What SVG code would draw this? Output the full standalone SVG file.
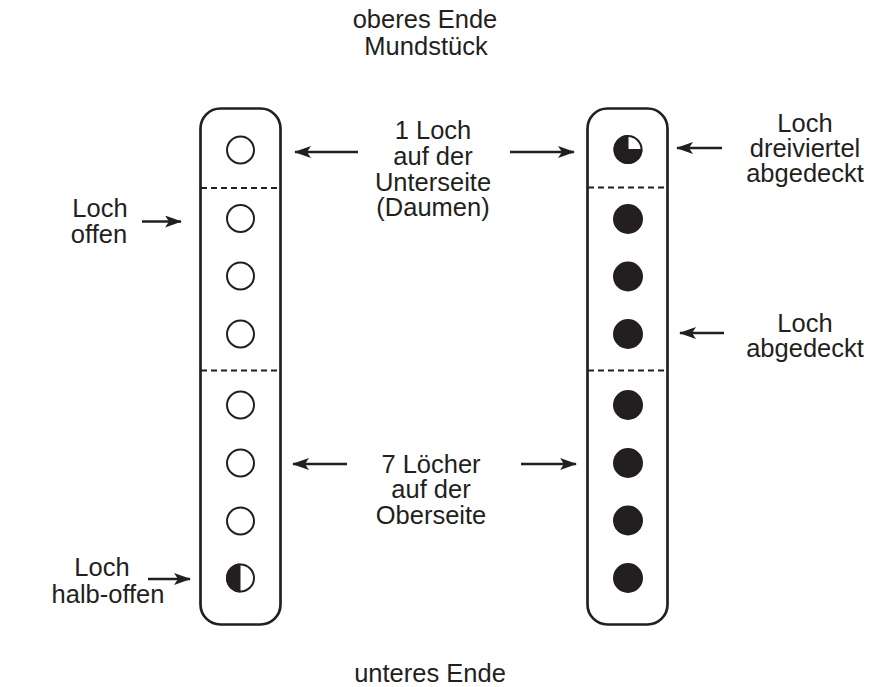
<svg xmlns="http://www.w3.org/2000/svg" width="872" height="687" viewBox="0 0 872 687">
<defs>
<style>
.tube{fill:none;stroke:#231f20;stroke-width:2.7}
.sep{stroke:#231f20;stroke-width:2;stroke-dasharray:6 4}
.open{fill:none;stroke:#231f20;stroke-width:2}
.full{fill:#231f20}
.arr{stroke:#231f20;stroke-width:2.5;fill:none;marker-end:url(#ah)}
text{font-family:"Liberation Sans",Arial,sans-serif;font-size:25.5px;fill:#231f20;text-anchor:middle}
</style>
<marker id="ah" viewBox="0 0 17 12" refX="16" refY="6" markerWidth="17" markerHeight="12" markerUnits="userSpaceOnUse" orient="auto">
<path d="M0,0 L17,6 L0,12 L4,6 Z" fill="#231f20"/>
</marker>
</defs>
<rect width="872" height="687" fill="#fff"/>

<g id="label-top">
<text x="425" y="28">oberes Ende</text>
<text x="426" y="55">Mundstück</text>
</g>
<g id="label-bottom">
<text x="430" y="682">unteres Ende</text>
</g>

<g id="tube-left">
<rect class="tube" x="200.5" y="108.5" width="80" height="516" rx="20"/>
<line class="sep" x1="201" y1="188" x2="280" y2="188"/>
<line class="sep" x1="201" y1="370.5" x2="280" y2="370.5"/>
<circle class="open" cx="240.5" cy="150" r="13.5"/>
<circle class="open" cx="240.5" cy="218.5" r="13.5"/>
<circle class="open" cx="240.5" cy="276" r="13.5"/>
<circle class="open" cx="240.5" cy="334" r="13.5"/>
<circle class="open" cx="240.5" cy="405" r="13.5"/>
<circle class="open" cx="240.5" cy="463" r="13.5"/>
<circle class="open" cx="240.5" cy="521" r="13.5"/>
<path class="full" d="M240.5,578 L240.5,563.5 A14.5,14.5 0 0 0 240.5,592.5 Z"/>
<circle class="open" cx="240.5" cy="578" r="13.5"/>
</g>

<g id="tube-right">
<rect class="tube" x="587.5" y="108.5" width="80" height="516" rx="20"/>
<line class="sep" x1="588" y1="187.5" x2="667" y2="187.5"/>
<line class="sep" x1="588" y1="370.5" x2="667" y2="370.5"/>
<path class="full" d="M628,149.5 L642.5,149.5 A14.5,14.5 0 1 1 628,135 Z"/>
<circle class="open" cx="628" cy="149.5" r="13.5"/>
<line x1="628" y1="149.5" x2="628" y2="136" stroke="#231f20" stroke-width="1"/>
<line x1="628" y1="149.5" x2="641.5" y2="149.5" stroke="#231f20" stroke-width="1"/>
<circle class="full" cx="628" cy="219" r="15"/>
<circle class="full" cx="628" cy="276.5" r="15"/>
<circle class="full" cx="628" cy="334" r="15"/>
<circle class="full" cx="628" cy="405" r="15"/>
<circle class="full" cx="628" cy="463" r="15"/>
<circle class="full" cx="628" cy="520.5" r="15"/>
<circle class="full" cx="628" cy="578" r="15"/>
</g>

<g id="label-thumb">
<text x="433" y="139">1 Loch</text>
<text x="433" y="165">auf der</text>
<text x="433" y="191">Unterseite</text>
<text x="433" y="216">(Daumen)</text>
</g>
<g id="label-seven">
<text x="431" y="473">7 Löcher</text>
<text x="431" y="498">auf der</text>
<text x="431" y="524">Oberseite</text>
</g>
<g id="label-open">
<text x="100" y="217">Loch</text>
<text x="99" y="243">offen</text>
</g>
<g id="label-half">
<text x="102" y="576">Loch</text>
<text x="108" y="603">halb-offen</text>
</g>
<g id="label-three-quarter">
<text x="805" y="132">Loch</text>
<text x="805" y="157">dreiviertel</text>
<text x="805" y="182">abgedeckt</text>
</g>
<g id="label-covered">
<text x="805" y="332">Loch</text>
<text x="805" y="357">abgedeckt</text>
</g>

<g id="connectors">
<line class="arr" x1="358" y1="152" x2="295" y2="152"/>
<line class="arr" x1="510" y1="152" x2="574" y2="152"/>
<line class="arr" x1="347" y1="464" x2="293" y2="464"/>
<line class="arr" x1="521" y1="464" x2="576" y2="464"/>
<line class="arr" x1="142" y1="221.5" x2="181" y2="221.5"/>
<line class="arr" x1="148" y1="579" x2="190" y2="579"/>
<line class="arr" x1="722" y1="148" x2="677" y2="148"/>
<line class="arr" x1="724" y1="333" x2="680" y2="333"/>
</g>
</svg>
